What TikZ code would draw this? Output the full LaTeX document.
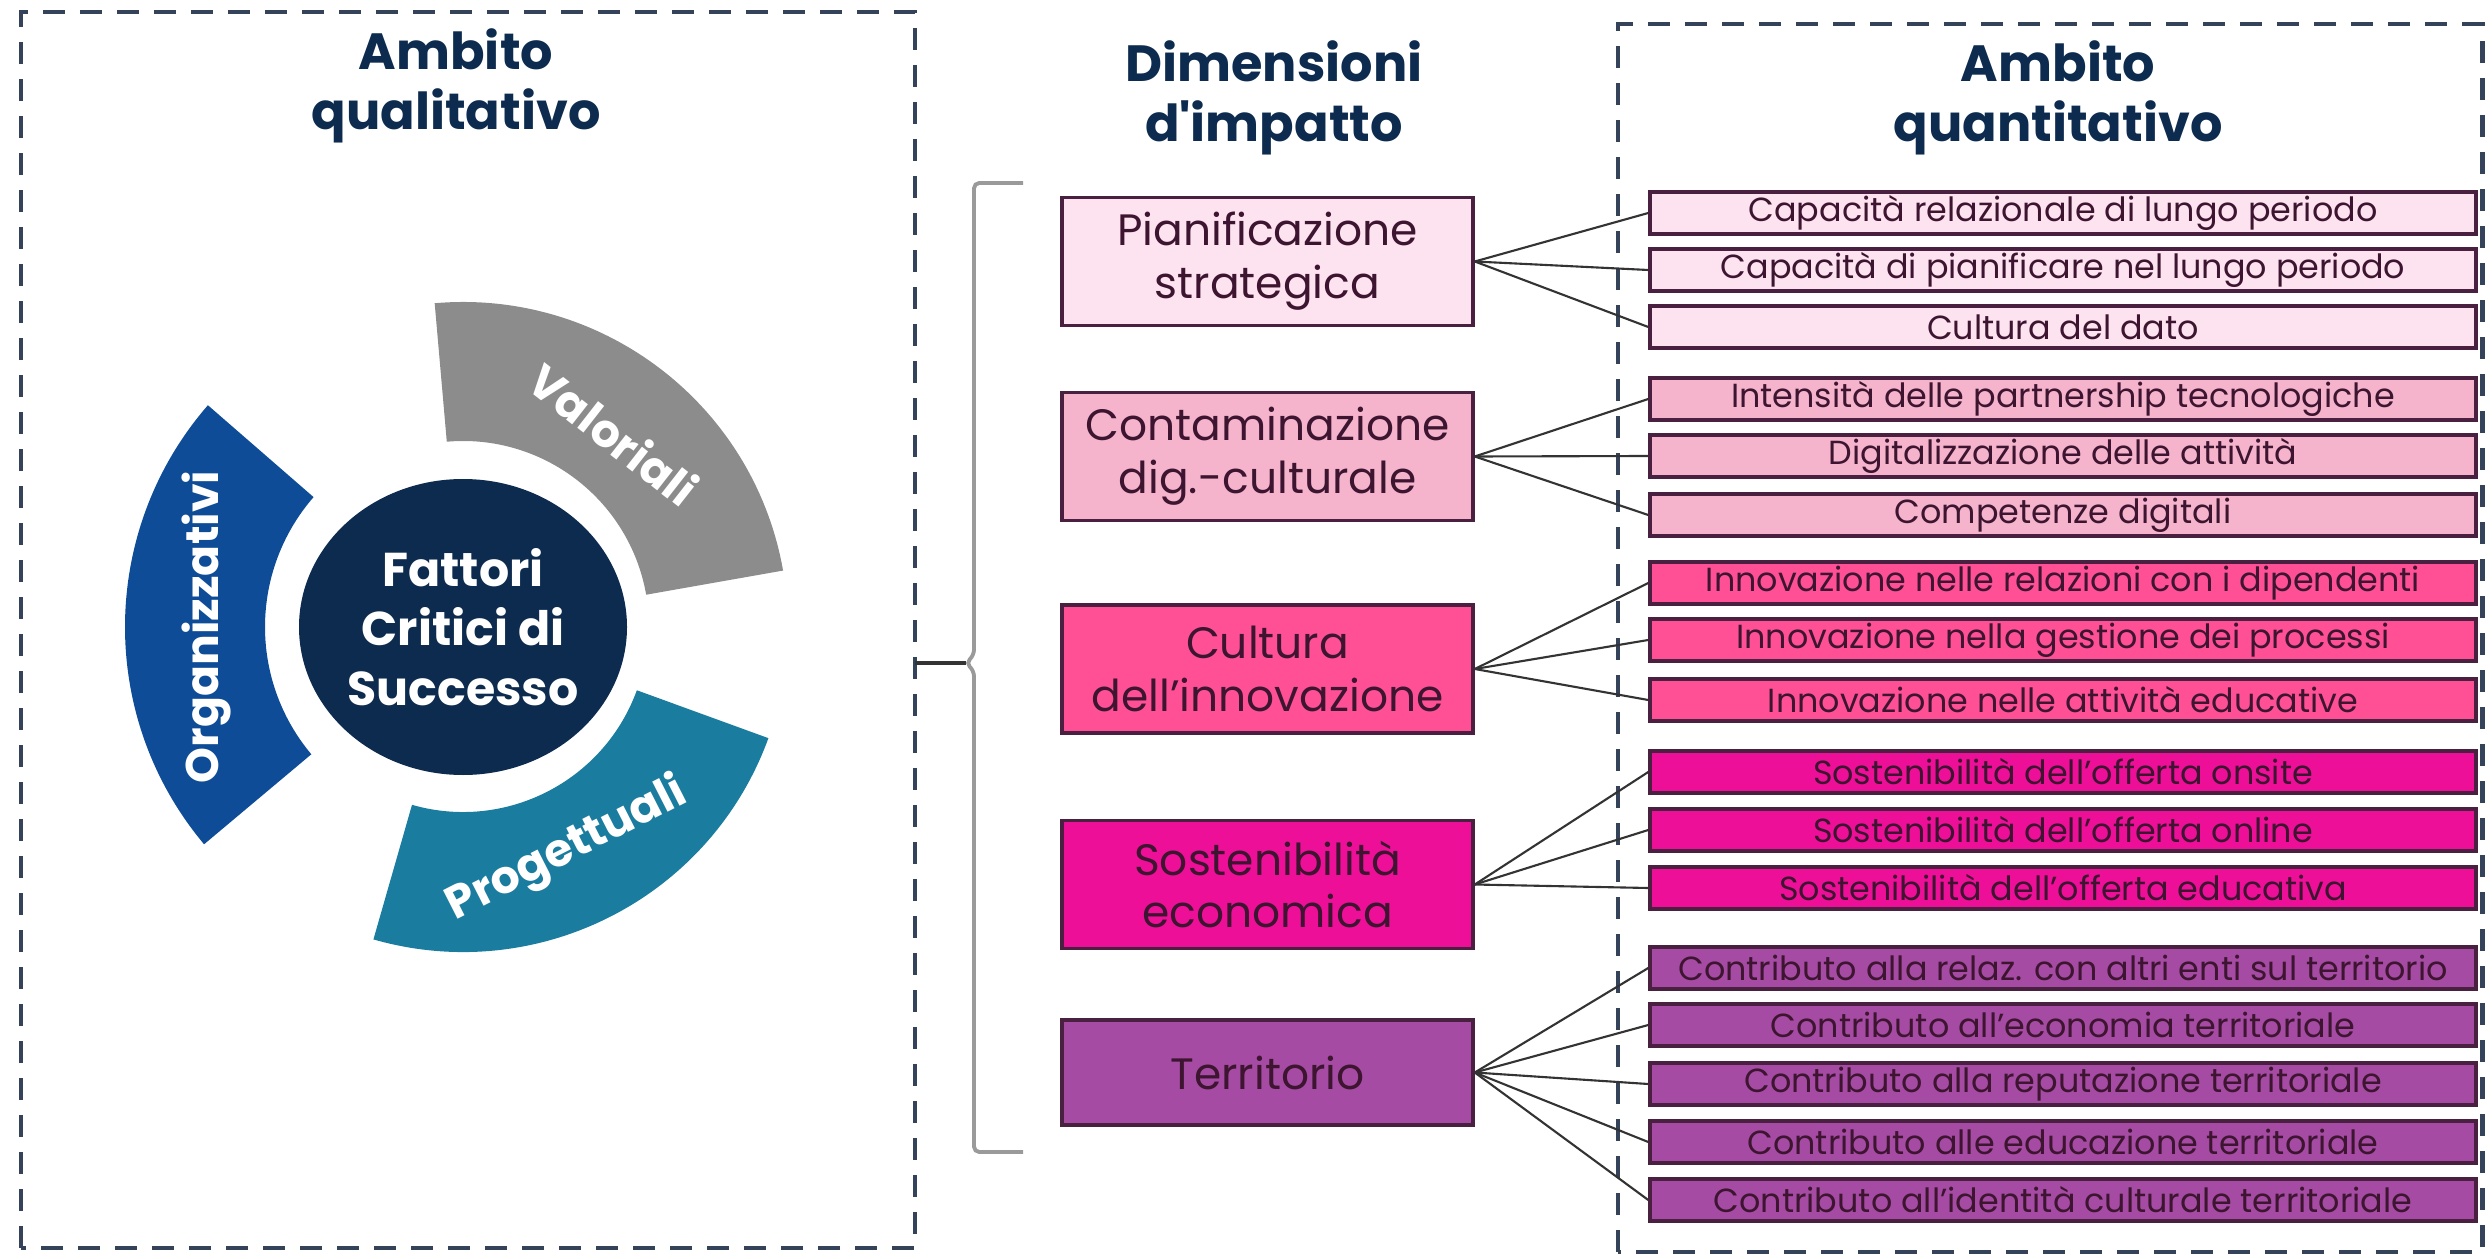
\documentclass[tikz,border=0pt]{standalone}
\usepackage{fontspec}
\setmainfont{Poppins}
\usepackage{xcolor}
\definecolor{navy}{HTML}{0D2B4E}
\definecolor{frame}{HTML}{34435A}
\definecolor{valgray}{HTML}{8C8C8C}
\definecolor{orgblue}{HTML}{0E4C97}
\definecolor{progteal}{HTML}{1A7C9F}
\definecolor{pinka}{HTML}{FDE2F0}
\definecolor{pinkb}{HTML}{F5B4CC}
\definecolor{pinkc}{HTML}{FF5096}
\definecolor{pinkd}{HTML}{EE0F99}
\definecolor{purplee}{HTML}{A54BA3}
\definecolor{boxline}{HTML}{4A2040}
\definecolor{boxtext}{HTML}{3D1530}
\definecolor{linkgray}{HTML}{333333}
\definecolor{bracegray}{HTML}{9A9A9A}
\usepackage{tikz}
\usetikzlibrary{
  arrows.meta,
  positioning,
  shapes.geometric
}

\begin{document}
\begin{tikzpicture}[
  heading/.style={font=\bfseries\fontsize{14.5}{17}\selectfont, text=navy, align=center},
  dashframe/.style={draw=frame, line width=1.4pt, dash pattern=on 0.22cm off 0.15cm},
  hubtext/.style={text=white, font=\bfseries\fontsize{13.5}{17}\selectfont, align=center},
  seglabel/.style={text=white, font=\bfseries\fontsize{13}{15}\selectfont},
  dimbox/.style={rectangle, draw=boxline, line width=1pt, text=boxtext, font=\fontsize{12.5}{15}\selectfont, minimum width=4.11cm, minimum height=1.28cm, align=center},
  indbox/.style={rectangle, draw=boxline, line width=1pt, text=boxtext, font=\fontsize{9.5}{11}\selectfont, minimum width=8.26cm, minimum height=0.42cm, inner sep=0pt},
  link/.style={draw=linkgray, line width=0.6pt},
  bracket/.style={draw=bracegray, line width=1.1pt, rounded corners=1.5pt},
]
\useasboundingbox (0,0) rectangle (24.92,12.58);

% Cornici tratteggiate
\coordinate (qualsw) at (0.21, 0.10);
\coordinate (qualne) at (9.15, 12.46);
\coordinate (quantsw) at (16.18, 0.06);
\coordinate (quantne) at (24.82, 12.34);
\draw[dashframe] (qualsw) rectangle (qualne);
\draw[dashframe] (quantsw) rectangle (quantne);

% Titoli
\node[heading] (tqual) at (4.56, 11.72) {Ambito\\qualitativo};
\node[heading] (tdim) at (12.74, 11.60) {Dimensioni\\d\textquotesingle impatto};
\node[heading] (tquant) at (20.58, 11.60) {Ambito\\quantitativo};

% Fattori critici (sinistra)
\coordinate (hub) at (4.63, 6.31);
\fill[valgray] ([shift={(10:3.25)}]hub) arc[start angle=10, end angle=95, radius=3.25]
  -- ([shift={(95:1.86)}]hub) arc[start angle=95, end angle=10, radius=1.86] -- cycle;
\fill[orgblue] ([shift={(139:3.38)}]hub) arc[start angle=139, end angle=220, radius=3.38]
  -- ([shift={(220:1.98)}]hub) arc[start angle=220, end angle=139, radius=1.98] -- cycle;
\fill[progteal] ([shift={(-106:3.25)}]hub) arc[start angle=-106, end angle=-20, radius=3.25]
  -- ([shift={(-20:1.85)}]hub) arc[start angle=-20, end angle=-106, radius=1.85] -- cycle;
\fill[navy] (hub) ellipse[x radius=1.64, y radius=1.48];
\node[hubtext] (fcs) at (hub) {Fattori\\Critici di\\Successo};
\node[seglabel, rotate=-38] (lval) at ([shift={(52:2.45)}]hub) {Valoriali};
\node[seglabel, rotate=90] (lorg) at ([shift={(180:2.57)}]hub) {Organizzativi};
\node[seglabel, rotate=27] (lprog) at ([shift={(-65:2.46)}]hub) {Progettuali};

% Parentesi
\coordinate (bracetip) at (9.66, 5.95);
\draw[bracket] (10.23, 10.75) -- (9.74, 10.75) -- (9.74, 6.03) -- (bracetip) -- (9.74, 5.87) -- (9.74, 1.06) -- (10.23, 1.06);
\draw[link, line width=1pt] (bracetip) -- (bracetip -| qualne);

% Dimensioni (centro)
\node[dimbox, fill=pinka] (pian) at (12.675, 9.965) {Pianificazione\\strategica};
\node[dimbox, fill=pinkb] (cont) at (12.675, 8.015) {Contaminazione\\dig.-culturale};
\node[dimbox, fill=pinkc] (cult) at (12.675, 5.89) {Cultura\\dell’innovazione};
\node[dimbox, fill=pinkd] (sost) at (12.675, 3.735) {Sostenibilità\\economica};
\node[dimbox, fill=purplee, minimum height=1.05cm] (terr) at (12.675, 1.855) {Territorio};

% Indicatori (destra)
\node[indbox, fill=pinka] (caprel) at (20.63, 10.45) {Capacità relazionale di lungo periodo};
\node[indbox, fill=pinka] (cappian) at (20.63, 9.88) {Capacità di pianificare nel lungo periodo};
\node[indbox, fill=pinka] (dato) at (20.63, 9.31) {Cultura del dato};

\node[indbox, fill=pinkb] (partner) at (20.63, 8.59) {Intensità delle partnership tecnologiche};
\node[indbox, fill=pinkb] (digit) at (20.63, 8.02) {Digitalizzazione delle attività};
\node[indbox, fill=pinkb] (compet) at (20.63, 7.43) {Competenze digitali};

\node[indbox, fill=pinkc] (inndip) at (20.63, 6.75) {Innovazione nelle relazioni con i dipendenti};
\node[indbox, fill=pinkc] (innproc) at (20.63, 6.18) {Innovazione nella gestione dei processi};
\node[indbox, fill=pinkc] (innedu) at (20.63, 5.58) {Innovazione nelle attività educative};

\node[indbox, fill=pinkd] (onsite) at (20.63, 4.86) {Sostenibilità dell’offerta onsite};
\node[indbox, fill=pinkd] (online) at (20.63, 4.28) {Sostenibilità dell’offerta online};
\node[indbox, fill=pinkd] (offedu) at (20.63, 3.70) {Sostenibilità dell’offerta educativa};

\node[indbox, fill=purplee] (relaz) at (20.63, 2.90) {Contributo alla relaz. con altri enti sul territorio};
\node[indbox, fill=purplee] (econ) at (20.63, 2.33) {Contributo all’economia territoriale};
\node[indbox, fill=purplee] (reput) at (20.63, 1.74) {Contributo alla reputazione territoriale};
\node[indbox, fill=purplee] (educ) at (20.63, 1.16) {Contributo alle educazione territoriale};
\node[indbox, fill=purplee] (ident) at (20.63, 0.58) {Contributo all’identità culturale territoriale};

% Collegamenti dimensioni -> indicatori
\draw[link] (pian.east) -- (caprel.west);
\draw[link] (pian.east) -- (cappian.west);
\draw[link] (pian.east) -- (dato.west);

\draw[link] (cont.east) -- (partner.west);
\draw[link] (cont.east) -- (digit.west);
\draw[link] (cont.east) -- (compet.west);

\draw[link] (cult.east) -- (inndip.west);
\draw[link] (cult.east) -- (innproc.west);
\draw[link] (cult.east) -- (innedu.west);

\draw[link] (sost.east) -- (onsite.west);
\draw[link] (sost.east) -- (online.west);
\draw[link] (sost.east) -- (offedu.west);

\draw[link] (terr.east) -- (relaz.west);
\draw[link] (terr.east) -- (econ.west);
\draw[link] (terr.east) -- (reput.west);
\draw[link] (terr.east) -- (educ.west);
\draw[link] (terr.east) -- (ident.west);

\end{tikzpicture}
\end{document}
